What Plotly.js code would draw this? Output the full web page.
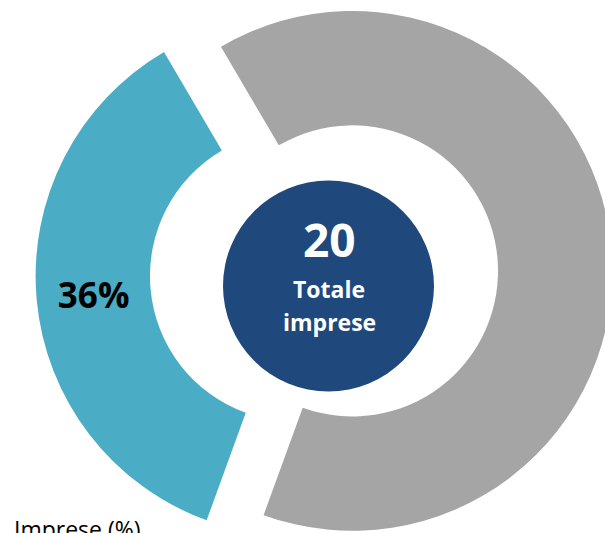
<!DOCTYPE html>
<html>
<head>
<meta charset="utf-8">
<script src="https://cdn.plot.ly/plotly-3.0.1.min.js"></script>
<style>
  html, body { margin: 0; padding: 0; background: #ffffff; overflow: hidden; width: 605px; height: 533px; }
  #chart { position: absolute; left: 0; top: -15.5px; width: 648px; height: 577px; }
</style>
</head>
<body>
<div id="chart"></div>
<script>
// Data
const categories = ['Imprese A', 'Imprese B'];
const values = [36, 64];
const sliceLabels = ['36%', ''];
const totalValue = '20';
const totalLabel = ['Totale', 'imprese'];
const axisCaption = 'Imprese (%)';

const W = 648, H = 577, TOP = -15.5;
// helpers: convert page px to paper coords
const px = x => x / W;
const py = y => 1 - (y - TOP) / H;

const FONT = 'Open Sans, Noto Sans, sans-serif';

const trace = {
  type: 'pie',
  labels: categories,
  values: values,
  text: sliceLabels,
  textinfo: 'text',
  textposition: 'inside',
  insidetextorientation: 'horizontal',
  textfont: { family: FONT, size: 35, color: '#000000', weight: 'bold' },
  hole: 0.56,
  pull: [0.11, 0.11],
  sort: false,
  direction: 'clockwise',
  rotation: -160,
  marker: { colors: ['#4BACC6', '#A5A5A5'], line: { width: 0 } },
  showlegend: false,
  hoverinfo: 'none',
  domain: { x: [0, 1], y: [0, 1] }
};

const layout = {
  width: W,
  height: H,
  margin: { l: 0, r: 0, t: 0, b: 0 },
  paper_bgcolor: '#ffffff',
  plot_bgcolor: '#ffffff',
  showlegend: false,
  shapes: [{
    type: 'circle',
    xref: 'paper', yref: 'paper',
    x0: px(223), x1: px(434),
    y0: py(391), y1: py(180),
    fillcolor: '#1F497D',
    line: { width: 0 },
    layer: 'above'
  }],
  annotations: [
    { xref: 'paper', yref: 'paper', x: px(329), y: py(238), xanchor: 'center', yanchor: 'middle',
      text: '<b>' + totalValue + '</b>', showarrow: false,
      font: { family: FONT, size: 46, color: '#ffffff' } },
    { xref: 'paper', yref: 'paper', x: px(329), y: py(288), xanchor: 'center', yanchor: 'middle',
      text: '<b>' + totalLabel[0] + '</b>', showarrow: false,
      font: { family: FONT, size: 23, color: '#ffffff' } },
    { xref: 'paper', yref: 'paper', x: px(329), y: py(322), xanchor: 'center', yanchor: 'middle',
      text: '<b>' + totalLabel[1] + '</b>', showarrow: false,
      font: { family: FONT, size: 23, color: '#ffffff' } },
    { xref: 'paper', yref: 'paper', x: px(12), y: py(510), xanchor: 'left', yanchor: 'top',
      text: axisCaption, showarrow: false,
      font: { family: FONT, size: 23, color: '#000000' } }
  ]
};

Plotly.newPlot('chart', [trace], layout, { staticPlot: true, displayModeBar: false });
</script>
</body>
</html>
